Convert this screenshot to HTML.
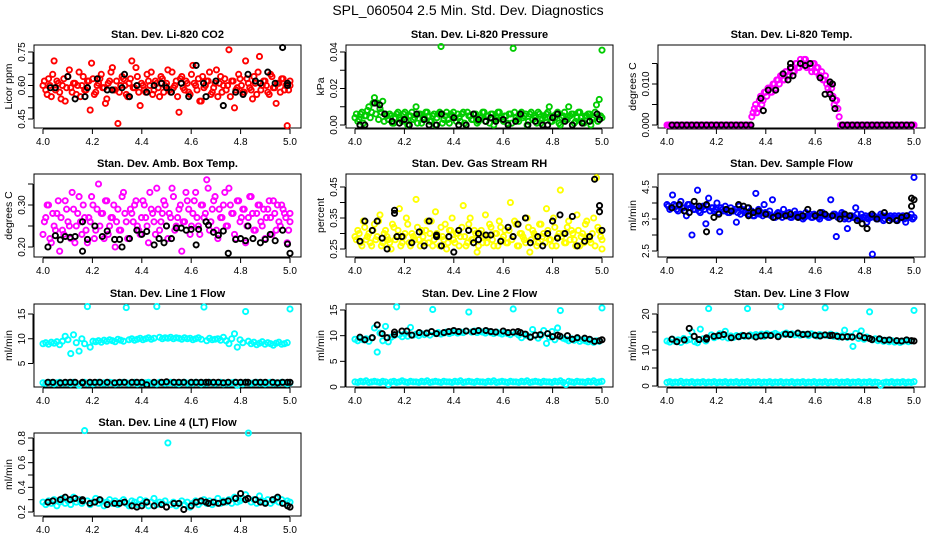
<!DOCTYPE html>
<html><head><meta charset="utf-8">
<style>
html,body{margin:0;padding:0;background:#fff;}
svg{display:block;font-family:"Liberation Sans",Arial,sans-serif;}
</style></head>
<body>
<svg id="chart" width="936" height="540" viewBox="0 0 936 540">
<text x="468" y="15" text-anchor="middle" font-size="14">SPL_060504  2.5 Min. Std. Dev. Diagnostics</text>
</svg>
<script>
// ---------- data ----------
const xTicks = [4.0, 4.2, 4.4, 4.6, 4.8, 5.0];
const xTickLabels = ["4.0", "4.2", "4.4", "4.6", "4.8", "5.0"];
const sharedBlackTimes = [4.02,4.04,4.07,4.09,4.11,4.13,4.16,4.16,4.19,4.21,4.23,4.26,4.29,4.31,4.33,4.36,4.38,4.40,4.42,4.45,4.48,4.50,4.53,4.55,4.57,4.60,4.62,4.64,4.66,4.67,4.69,4.71,4.73,4.75,4.78,4.80,4.82,4.83,4.86,4.88,4.90,4.93,4.95,4.97,4.99,5.00];

const co2Values = [0.60,0.58,0.63,0.55,0.71,0.62,0.57,0.60,0.53,0.64,0.59,0.61,0.56,0.66,0.60,0.58,0.62,0.49,0.63,0.57,0.61,0.65,0.59,0.54,0.62,0.68,0.58,0.43,0.60,0.63,0.56,0.61,0.71,0.59,0.64,0.51,0.60,0.57,0.62,0.66,0.58,0.61,0.55,0.63,0.60,0.67,0.57,0.59,0.62,0.48,0.64,0.58,0.61,0.56,0.69,0.60,0.63,0.53,0.59,0.62,0.66,0.57,0.61,0.55,0.64,0.60,0.58,0.76,0.62,0.50,0.59,0.63,0.57,0.71,0.61,0.58,0.64,0.56,0.73,0.60,0.62,0.57,0.65,0.59,0.52,0.61,0.63,0.58,0.42,0.60];
const co2Values2 = [0.62,0.56,0.60,0.65,0.58,0.61,0.54,0.63,0.59,0.67,0.57,0.61,0.60,0.55,0.64,0.58,0.62,0.70,0.56,0.60,0.63,0.59,0.52,0.61,0.66,0.58,0.62,0.57,0.64,0.60,0.55,0.63,0.59,0.68,0.57,0.61,0.58,0.65,0.60,0.56,0.62,0.59,0.64,0.57,0.61,0.58,0.66,0.60,0.55,0.63,0.59,0.62,0.57,0.65,0.61,0.58,0.53,0.64,0.60,0.62,0.56,0.59,0.67,0.61,0.57,0.63,0.60,0.55,0.62,0.58,0.65,0.60,0.57,0.63,0.59,0.54,0.61,0.66,0.58,0.62,0.60,0.56,0.64,0.59,0.61,0.57,0.63,0.60,0.58,0.62];
const co2BlackTimes = [4.03,4.05,4.10,4.13,4.17,4.18,4.22,4.26,4.28,4.32,4.33,4.35,4.38,4.42,4.45,4.48,4.50,4.52,4.56,4.59,4.62,4.65,4.66,4.70,4.73,4.78,4.81,4.83,4.86,4.88,4.91,4.94,4.97,4.99,4.99];
const co2BlackValues = [0.59,0.59,0.64,0.54,0.55,0.59,0.63,0.58,0.58,0.59,0.65,0.55,0.60,0.57,0.60,0.61,0.59,0.57,0.61,0.55,0.69,0.61,0.55,0.62,0.51,0.57,0.56,0.65,0.62,0.61,0.66,0.61,0.77,0.61,0.60];

const pressureValues = [0.004,0.002,0.006,0.001,0.005,0.010,0.007,0.015,0.012,0.009,0.013,0.006,0.003,0.005,0.001,0.006,0.004,0.002,0.007,0.000,0.005,0.003,0.010,0.006,0.001,0.004,0.007,0.002,0.005,0.000,0.006,0.043,0.003,0.007,0.001,0.005,0.004,0.006,0.002,0.007,0.000,0.005,0.003,0.006,0.001,0.004,0.007,0.002,0.005,0.006,0.000,0.004,0.007,0.003,0.005,0.001,0.006,0.042,0.004,0.002,0.007,0.005,0.000,0.006,0.003,0.004,0.007,0.001,0.005,0.006,0.010,0.002,0.004,0.007,0.000,0.005,0.003,0.010,0.006,0.001,0.004,0.007,0.002,0.005,0.006,0.000,0.004,0.011,0.014,0.041];
const pressureValues2 = [0.006,0.003,0.007,0.005,0.008,0.004,0.012,0.006,0.003,0.007,0.002,0.005,0.006,0.001,0.004,0.007,0.003,0.006,0.002,0.005,0.007,0.004,0.001,0.006,0.003,0.007,0.005,0.002,0.006,0.004,0.007,0.001,0.005,0.003,0.006,0.007,0.002,0.004,0.006,0.001,0.007,0.005,0.003,0.006,0.002,0.004,0.007,0.005,0.001,0.006,0.003,0.007,0.004,0.002,0.005,0.006,0.001,0.007,0.003,0.005,0.004,0.006,0.002,0.007,0.005,0.001,0.006,0.003,0.004,0.007,0.002,0.005,0.006,0.001,0.004,0.007,0.003,0.005,0.006,0.002,0.007,0.004,0.001,0.005,0.006,0.003,0.007,0.002,0.005,0.004];
const pressureBlackTimes = [4.02,4.04,4.08,4.10,4.12,4.15,4.18,4.20,4.22,4.25,4.28,4.30,4.33,4.35,4.40,4.42,4.45,4.48,4.50,4.53,4.55,4.57,4.60,4.62,4.65,4.67,4.70,4.73,4.76,4.78,4.80,4.82,4.85,4.88,4.92,4.95,4.98,4.99];
const pressureBlackValues = [0.000,0.000,0.012,0.011,0.006,0.002,0.001,0.003,0.000,0.006,0.003,0.000,0.000,0.006,0.004,0.000,0.000,0.006,0.003,0.002,0.004,0.002,0.003,0.000,0.002,0.006,0.000,0.002,0.000,0.000,0.004,0.006,0.002,0.000,0.001,0.002,0.006,0.003];

const tempValues = [0,0,0,0,0,0,0,0,0,0,0,0,0,0,0,0,0,0,0,0,0,0,0,0,0,0,0,0,0,0,0,0,0,0,0.002,0.004,0.003,0.006,0.005,0.008,0.007,0.009,0.008,0.010,0.011,0.010,0.012,0.011,0.013,0.012,0.014,0.013,0.015,0.014,0.015,0.016,0.014,0.015,0.013,0.015,0.014,0.012,0.013,0.011,0.010,0.008,0.009,0.005,0.006,0.002,0,0,0,0,0,0,0,0,0,0,0,0,0,0,0,0,0,0,0,0,0,0,0,0,0,0,0,0,0,0];
const tempValues2 = [0,0,0,0,0,0,0,0,0,0,0,0,0,0,0,0,0,0,0,0,0,0,0,0,0,0,0,0,0,0,0,0,0,0,0.003,0.005,0.004,0.007,0.006,0.008,0.009,0.008,0.010,0.009,0.011,0.012,0.011,0.013,0.012,0.014,0.013,0.015,0.014,0.016,0.015,0.016,0.015,0.014,0.015,0.013,0.014,0.012,0.011,0.012,0.009,0.010,0.007,0.006,0.004,0,0,0,0,0,0,0,0,0,0,0,0,0,0,0,0,0,0,0,0,0,0,0,0,0,0,0,0,0,0,0];
const tempBlackTimes = [4.02,4.04,4.06,4.08,4.10,4.12,4.14,4.16,4.18,4.20,4.22,4.24,4.26,4.28,4.30,4.32,4.34,4.38,4.39,4.41,4.44,4.47,4.49,4.50,4.50,4.51,4.54,4.56,4.58,4.62,4.64,4.66,4.66,4.67,4.67,4.68,4.71,4.73,4.75,4.77,4.79,4.81,4.83,4.85,4.87,4.89,4.91,4.93,4.95,4.97,4.99];
const tempBlackValues = [0,0,0,0,0,0,0,0,0,0,0,0,0,0,0,0,0,0.0065,0.0035,0.0085,0.0085,0.0125,0.0110,0.0150,0.0140,0.0120,0.0150,0.0145,0.0150,0.0115,0.0075,0.0105,0.0075,0.0100,0.0065,0.0040,0,0,0,0,0,0,0,0,0,0,0,0,0,0,0];

const ambValues = [0.23,0.27,0.30,0.21,0.25,0.28,0.19,0.24,0.31,0.26,0.22,0.29,0.25,0.32,0.23,0.27,0.21,0.26,0.30,0.24,0.35,0.28,0.22,0.31,0.25,0.27,0.20,0.29,0.24,0.33,0.26,0.22,0.28,0.30,0.25,0.23,0.31,0.27,0.21,0.29,0.26,0.34,0.24,0.28,0.30,0.22,0.27,0.32,0.25,0.29,0.19,0.26,0.31,0.23,0.28,0.33,0.25,0.30,0.27,0.36,0.24,0.29,0.32,0.22,0.27,0.30,0.25,0.34,0.28,0.23,0.31,0.26,0.29,0.21,0.27,0.32,0.24,0.28,0.30,0.25,0.22,0.29,0.27,0.31,0.24,0.26,0.30,0.28,0.21,0.26];
const ambValues2 = [0.26,0.30,0.22,0.28,0.24,0.31,0.27,0.23,0.29,0.25,0.33,0.21,0.28,0.26,0.30,0.24,0.27,0.32,0.22,0.29,0.25,0.28,0.31,0.23,0.27,0.30,0.26,0.24,0.32,0.28,0.22,0.29,0.26,0.31,0.24,0.27,0.30,0.25,0.33,0.28,0.23,0.29,0.26,0.31,0.25,0.28,0.34,0.24,0.27,0.30,0.26,0.33,0.29,0.25,0.31,0.27,0.23,0.30,0.28,0.34,0.26,0.31,0.24,0.29,0.27,0.33,0.25,0.30,0.28,0.22,0.31,0.27,0.29,0.25,0.32,0.28,0.24,0.30,0.26,0.29,0.27,0.31,0.23,0.28,0.30,0.25,0.29,0.27,0.24,0.28];
const ambBlackTimes = [4.02,4.05,4.07,4.09,4.11,4.13,4.16,4.16,4.18,4.21,4.24,4.26,4.29,4.31,4.32,4.35,4.38,4.40,4.42,4.45,4.47,4.49,4.50,4.52,4.54,4.56,4.58,4.60,4.62,4.63,4.66,4.67,4.69,4.71,4.73,4.75,4.78,4.80,4.82,4.83,4.85,4.88,4.90,4.92,4.94,4.97,4.99,5.00];
const ambBlackValues = [0.200,0.227,0.217,0.225,0.223,0.225,0.190,0.260,0.218,0.250,0.225,0.238,0.218,0.218,0.200,0.220,0.240,0.230,0.237,0.205,0.220,0.210,0.250,0.220,0.245,0.245,0.240,0.242,0.205,0.242,0.260,0.252,0.235,0.228,0.238,0.185,0.218,0.220,0.215,0.250,0.220,0.210,0.218,0.230,0.215,0.240,0.207,0.185];

const rhValues = [0.29,0.31,0.27,0.34,0.28,0.30,0.26,0.33,0.29,0.36,0.27,0.31,0.28,0.25,0.32,0.29,0.38,0.27,0.30,0.33,0.26,0.29,0.41,0.28,0.31,0.27,0.34,0.30,0.26,0.37,0.29,0.32,0.28,0.25,0.31,0.35,0.27,0.30,0.29,0.39,0.26,0.33,0.28,0.31,0.24,0.30,0.27,0.36,0.29,0.32,0.26,0.30,0.34,0.28,0.31,0.27,0.40,0.29,0.33,0.26,0.30,0.28,0.35,0.24,0.31,0.29,0.27,0.33,0.30,0.38,0.28,0.26,0.32,0.29,0.44,0.30,0.27,0.34,0.31,0.28,0.36,0.26,0.30,0.33,0.29,0.27,0.35,0.48,0.31,0.25];
const rhValues2 = [0.28,0.30,0.26,0.32,0.29,0.27,0.31,0.28,0.34,0.26,0.30,0.29,0.27,0.33,0.28,0.31,0.26,0.29,0.35,0.27,0.30,0.28,0.32,0.26,0.29,0.31,0.27,0.34,0.28,0.30,0.26,0.29,0.33,0.27,0.31,0.28,0.30,0.26,0.32,0.29,0.27,0.35,0.28,0.30,0.26,0.31,0.29,0.27,0.33,0.28,0.30,0.26,0.32,0.29,0.27,0.31,0.28,0.34,0.26,0.30,0.29,0.27,0.32,0.28,0.30,0.26,0.33,0.29,0.27,0.31,0.28,0.35,0.26,0.30,0.29,0.27,0.32,0.28,0.30,0.26,0.31,0.29,0.27,0.34,0.28,0.30,0.26,0.32,0.29,0.28];
const rhBlackTimes = [4.02,4.04,4.07,4.09,4.11,4.13,4.16,4.16,4.17,4.19,4.23,4.26,4.28,4.30,4.33,4.33,4.35,4.38,4.40,4.42,4.46,4.48,4.50,4.50,4.53,4.55,4.59,4.62,4.64,4.66,4.69,4.71,4.74,4.76,4.78,4.80,4.82,4.83,4.85,4.88,4.90,4.93,4.95,4.97,4.99,4.99,5.00];
const rhBlackValues = [0.275,0.340,0.310,0.340,0.285,0.250,0.365,0.375,0.290,0.290,0.270,0.305,0.260,0.340,0.295,0.290,0.260,0.290,0.240,0.310,0.310,0.270,0.300,0.280,0.295,0.295,0.275,0.320,0.290,0.330,0.350,0.270,0.290,0.260,0.300,0.340,0.285,0.360,0.300,0.355,0.260,0.275,0.290,0.475,0.390,0.370,0.310];

const flowValues = [3.95,3.80,4.25,3.90,3.75,4.05,3.85,3.60,3.95,3.00,3.80,4.40,3.70,3.90,3.35,4.15,3.85,3.75,4.00,3.10,3.80,3.90,3.70,3.85,3.75,3.40,3.90,3.80,3.70,3.85,3.75,3.60,4.30,3.80,3.70,3.95,3.65,3.75,4.10,3.55,3.70,3.65,3.80,3.60,3.70,3.55,3.75,3.60,3.65,3.50,3.70,3.60,3.55,3.65,3.60,3.50,3.70,3.60,3.55,4.10,3.65,2.95,3.60,3.70,3.50,3.20,3.60,3.55,3.85,3.50,3.65,3.55,3.40,3.60,2.40,3.55,3.50,3.65,3.45,3.60,3.55,3.50,3.60,3.45,3.55,3.60,3.40,3.55,3.65,4.80];
const flowValues2 = [3.90,3.85,3.95,3.80,3.90,3.85,3.75,3.95,3.85,3.80,3.90,3.75,3.85,3.80,3.90,3.75,3.85,3.80,3.70,3.85,3.75,3.80,3.70,3.75,3.80,3.70,3.65,3.75,3.70,3.65,3.75,3.60,3.70,3.65,3.60,3.70,3.65,3.60,3.55,3.65,3.60,3.55,3.65,3.60,3.55,3.60,3.65,3.55,3.60,3.55,3.60,3.65,3.55,3.60,3.55,3.60,3.65,3.60,3.55,3.60,3.65,3.55,3.60,3.65,3.55,3.50,3.60,3.55,3.65,3.50,3.55,3.60,3.50,3.55,3.60,3.50,3.55,3.60,3.50,3.55,3.60,3.55,3.50,3.60,3.55,3.50,3.60,3.55,3.50,3.55];
const flowBlackTimes = [4.02,4.05,4.07,4.09,4.11,4.13,4.16,4.16,4.19,4.21,4.24,4.26,4.29,4.31,4.33,4.33,4.35,4.37,4.40,4.43,4.45,4.48,4.50,4.53,4.55,4.57,4.60,4.62,4.64,4.67,4.70,4.72,4.74,4.77,4.79,4.81,4.83,4.85,4.88,4.90,4.93,4.95,4.97,4.99,4.99,5.00];
const flowBlackValues = [3.85,3.95,3.75,3.70,4.05,3.90,3.10,3.95,3.55,3.65,3.80,3.75,3.95,3.90,3.60,3.85,3.70,3.75,3.65,3.55,3.60,3.60,3.65,3.55,3.60,3.80,3.60,3.70,3.65,3.60,3.50,3.65,3.60,3.45,3.35,3.20,3.65,3.50,3.70,3.45,3.45,3.55,3.60,3.90,4.15,4.10];

const line1Upper = [9.0,9.2,8.9,9.3,9.1,9.4,8.8,9.5,10.5,9.8,7.0,10.8,9.2,7.5,10.0,9.0,16.5,8.3,9.5,9.4,9.6,9.3,9.7,9.5,9.8,9.6,9.4,9.9,9.7,9.5,16.3,9.8,10.0,9.7,9.9,10.1,9.8,10.0,10.2,9.9,10.1,16.5,10.3,10.0,10.2,10.1,10.3,10.0,10.2,10.1,9.9,10.2,10.0,10.1,9.8,10.0,10.2,9.9,16.4,9.6,10.1,9.8,9.9,10.0,9.7,10.3,9.6,9.0,10.0,11.0,8.3,9.8,9.2,15.5,9.5,9.0,9.3,8.8,9.1,9.4,8.9,9.2,9.0,8.7,9.1,9.3,8.9,9.0,9.2,16.0];
const line1Lower = [1.1,1.0,1.2,1.1,0.9,1.1,1.2,1.0,1.1,1.1,0.9,1.2,1.0,0.6,1.1,1.2,1.0,1.1,0.9,1.1,1.2,1.0,1.1,1.0,1.2,1.1,0.9,1.1,1.0,1.2,1.1,1.0,1.1,1.2,0.9,1.1,1.0,1.1,1.2,1.0,1.1,0.9,1.2,1.1,1.0,1.1,1.2,1.0,1.1,0.9,1.1,1.2,1.0,1.1,1.0,1.2,1.1,0.9,1.1,1.0,1.2,1.1,1.0,1.1,1.2,0.9,1.1,1.0,1.1,1.2,0.6,1.1,0.9,1.2,1.1,1.0,1.1,1.2,1.0,1.1,0.9,1.1,1.2,1.0,1.1,1.0,1.2,1.1,0.9,1.1];
const line1BlackValues = [1.2,1.2,1.1,1.2,1.2,1.2,1.1,1.2,1.2,1.2,1.2,1.2,1.1,1.2,1.2,1.2,1.2,1.2,0.7,1.2,1.2,1.3,1.2,1.2,1.2,1.2,1.2,1.2,1.2,1.2,1.2,1.2,1.1,1.2,1.2,1.2,1.2,1.2,1.2,1.2,1.2,1.2,1.1,1.2,1.2,1.2];

const line2Upper = [9.3,9.0,9.5,9.2,9.4,8.9,9.6,11.5,6.8,10.5,9.0,11.8,8.8,9.7,10.0,15.6,10.2,9.8,10.4,9.9,11.6,10.1,10.3,10.0,10.4,10.2,10.5,10.1,15.1,10.4,10.6,10.3,10.5,10.7,10.4,10.6,10.8,10.5,10.7,10.6,10.9,14.6,10.7,10.9,10.6,10.8,10.7,10.5,10.8,10.6,10.4,10.7,10.5,10.3,10.6,10.4,10.2,15.2,10.5,10.1,9.6,10.3,10.0,9.8,11.2,10.1,9.5,10.0,11.0,8.5,9.7,10.8,9.2,11.5,14.9,9.5,9.3,9.0,9.4,9.1,9.3,8.9,9.2,9.0,8.8,9.1,8.7,9.0,8.9,15.4];
const line2Lower = [1.0,0.9,1.1,1.0,1.2,0.9,1.0,1.1,1.0,0.9,1.1,1.0,0.5,1.0,1.1,0.9,1.0,1.2,1.0,0.9,1.1,1.0,1.0,0.9,1.1,1.0,1.2,0.9,1.0,1.1,1.0,0.9,1.1,1.0,1.0,0.9,1.1,1.0,1.2,0.9,1.0,1.1,1.0,0.9,1.1,1.0,1.0,0.9,1.1,1.0,1.2,0.9,1.0,1.1,1.0,0.9,1.1,1.0,1.0,0.9,1.1,1.0,1.2,0.9,1.0,1.1,1.0,0.9,1.1,1.0,1.0,0.9,1.1,1.0,1.2,0.9,0.5,1.1,1.0,0.9,1.1,1.0,1.0,0.9,1.1,1.0,1.2,0.9,1.0,1.1];
const line2BlackValues = [9.7,9.2,9.6,12.1,10.4,9.6,10.2,10.7,10.9,10.9,10.1,10.6,10.5,10.8,10.4,10.6,10.8,11.0,10.8,10.9,10.8,11.0,11.0,10.8,10.7,10.9,10.6,10.7,10.8,10.6,10.3,9.7,10.1,10.2,10.4,9.8,10.1,9.9,10.0,9.3,9.6,9.5,9.3,8.9,9.0,9.2];

const line3Upper = [12.5,12.2,13.0,12.4,12.8,12.1,13.2,12.6,12.9,15.0,12.3,12.0,15.8,13.1,12.5,21.5,14.2,13.4,13.8,14.5,13.6,15.2,13.3,13.9,13.5,14.0,13.7,14.1,13.8,21.5,14.2,13.9,14.3,14.0,14.4,13.8,14.5,14.1,14.3,14.6,14.2,22.0,14.4,14.7,14.3,14.5,14.2,14.6,14.1,14.4,14.3,14.0,14.5,14.2,13.9,14.3,14.1,21.7,14.0,14.4,13.8,14.1,13.6,13.9,15.5,13.5,13.8,11.0,14.6,13.2,15.3,13.0,13.6,20.6,12.8,13.1,12.6,12.9,12.4,12.7,12.3,12.6,12.2,12.5,12.1,12.4,12.6,12.3,12.5,21.0];
const line3Lower = [1.0,1.2,0.9,1.1,1.0,1.3,0.9,1.1,1.0,1.2,0.9,1.1,1.0,1.2,0.9,1.1,1.0,1.2,0.9,1.1,1.0,1.2,0.9,1.1,1.0,1.2,0.9,1.1,1.0,1.2,0.9,1.1,1.0,1.2,0.9,1.1,1.0,1.2,0.9,1.1,1.0,1.2,0.9,1.1,1.0,1.2,0.9,1.1,1.0,1.2,0.9,1.1,1.0,1.2,0.9,1.1,1.0,1.2,0.9,1.1,1.0,1.2,0.9,1.1,1.0,1.2,0.9,1.1,1.0,1.2,0.9,1.1,1.0,1.2,0.9,1.1,1.0,0.2,0.9,1.1,1.0,1.2,0.9,1.1,1.0,1.2,0.9,1.1,1.0,1.2];
const line3BlackValues = [13.0,12.3,12.8,16.0,13.8,12.9,13.4,13.0,13.8,14.0,14.3,13.4,13.7,14.0,13.9,13.6,13.9,14.1,14.0,13.7,14.4,14.3,14.7,14.3,14.4,14.1,13.9,14.2,14.0,14.1,13.8,13.6,13.7,13.6,13.9,13.4,13.2,12.9,13.1,12.7,12.8,12.6,12.5,12.8,12.6,12.5];

const line4Values = [0.28,0.26,0.29,0.27,0.30,0.25,0.28,0.31,0.27,0.29,0.26,0.32,0.28,0.30,0.27,0.86,0.29,0.26,0.28,0.31,0.27,0.29,0.25,0.28,0.30,0.27,0.29,0.26,0.28,0.30,0.27,0.25,0.29,0.28,0.26,0.30,0.27,0.29,0.25,0.28,0.31,0.26,0.28,0.27,0.29,0.76,0.26,0.28,0.25,0.27,0.29,0.26,0.28,0.24,0.27,0.29,0.26,0.28,0.30,0.27,0.29,0.26,0.28,0.31,0.27,0.29,0.28,0.30,0.27,0.32,0.28,0.29,0.31,0.34,0.84,0.28,0.30,0.27,0.33,0.29,0.28,0.30,0.27,0.29,0.31,0.28,0.30,0.27,0.29,0.28];
const line4BlackValues = [0.28,0.29,0.30,0.32,0.30,0.31,0.30,0.29,0.27,0.28,0.30,0.26,0.27,0.27,0.28,0.25,0.24,0.25,0.28,0.25,0.26,0.24,0.27,0.27,0.22,0.25,0.28,0.29,0.28,0.27,0.28,0.27,0.28,0.29,0.31,0.35,0.30,0.31,0.30,0.28,0.27,0.30,0.32,0.27,0.25,0.24];

// ---------- rendering ----------
const NS = "http://www.w3.org/2000/svg";
const svg = document.getElementById("chart");
function mk(tag, attrs, parent) {
  const e = document.createElementNS(NS, tag);
  for (const k in attrs) e.setAttribute(k, attrs[k]);
  (parent || svg).appendChild(e);
  return e;
}
const colLeft = [34, 346, 658];
const rowTop = [45, 174, 304, 433];
const BOXW = 267, BOXH = 83;

function panel(p) {
  const L = colLeft[p.col], T = rowTop[p.row], B = T + BOXH;
  const g = mk("g", {});
  
  
  const xs = v => L + 9 + (v - 4.0) / 1.0 * 247;
  const ys = v => p.py0 + (v - p.v0) / (p.v1 - p.v0) * (p.py1 - p.py0);
  const t = mk("text", {x: L + BOXW / 2, y: T - 7, "text-anchor": "middle", "font-size": 11, "font-weight": "bold"}, g);
  t.textContent = p.title;
  
  
  const box = mk("rect", {x: L, y: T, width: BOXW, height: BOXH, fill: "none", stroke: "#000", "stroke-width": 1}, g);
  
  
  const xa = mk("g", {}, g);
  
  
  mk("line", {x1: xs(xTicks[0]), x2: xs(xTicks[xTicks.length - 1]), y1: B + 1, y2: B + 1, stroke: "#000"}, xa);
  xTicks.forEach((v, i) => {
    mk("line", {x1: xs(v), x2: xs(v), y1: B + 1, y2: B + 6, stroke: "#000"}, xa);
    const lb = mk("text", {x: xs(v), y: B + 17, "text-anchor": "middle", "font-size": 10}, xa);
    lb.textContent = xTickLabels[i];
    
    
  });
  const ya = mk("g", {}, g);
  
  
  mk("line", {x1: L - 1, x2: L - 1, y1: ys(p.ticks[0]), y2: ys(p.ticks[p.ticks.length - 1]), stroke: "#000"}, ya);
  p.ticks.forEach(v => mk("line", {x1: L - 6, x2: L - 1, y1: ys(v), y2: ys(v), stroke: "#000"}, ya));
  p.labels.forEach((s, i) => {
    const yy = ys(p.labelVals[i]);
    const lb = mk("text", {x: L - 9, y: yy, "text-anchor": "middle", "font-size": 10, transform: `rotate(-90 ${L - 9} ${yy})`}, ya);
    lb.textContent = s;
    
    
  });
  const yl = mk("text", {x: L - 22, y: T + BOXH / 2, "text-anchor": "middle", "font-size": 10.5, transform: `rotate(-90 ${L - 22} ${T + BOXH / 2})`}, g);
  yl.textContent = p.ylab;
  
  
  p.series.forEach(s => {
    const sg = mk("g", {}, g);
    
    
    const n = s.times ? Math.min(s.times.length, s.values.length) : s.values.length;
    const off = s.half ? 0.5 : 0;
    for (let i = 0; i < n; i++) {
      const tv = s.times ? s.times[i] : 4.0 + Math.min(1, (i + off) / (n - 1));
      const c = mk("circle", {cx: xs(tv), cy: ys(s.values[i]), r: 2.6, fill: "none", stroke: s.color, "stroke-width": 1.9}, sg);
      
      
    }
  });
}

panel({name: "panel-co2", title: "Stan. Dev. Li-820 CO2", ylab: "Licor ppm", col: 0, row: 0, v0: 0.45, py0: 119, v1: 0.75, py1: 52,
  ticks: [0.45,0.50,0.55,0.60,0.65,0.70,0.75], labels: ["0.45","0.60","0.75"], labelVals: [0.45,0.60,0.75],
  series: [{name: "co2-series", color: "#ff0000", values: co2Values}, {name: "co2-series-2", color: "#ff0000", values: co2Values2, half: true}, {name: "co2-black-series", color: "#000", times: co2BlackTimes, values: co2BlackValues}]});
panel({name: "panel-pressure", title: "Stan. Dev. Li-820 Pressure", ylab: "kPa", col: 1, row: 0, v0: 0, py0: 125, v1: 0.04, py1: 52,
  ticks: [0,0.01,0.02,0.03,0.04], labels: ["0.00","0.02","0.04"], labelVals: [0,0.02,0.04],
  series: [{name: "pressure-series", color: "#00cc00", values: pressureValues}, {name: "pressure-series-2", color: "#00cc00", values: pressureValues2, half: true}, {name: "pressure-black-series", color: "#000", times: pressureBlackTimes, values: pressureBlackValues}]});
panel({name: "panel-temp", title: "Stan. Dev. Li-820 Temp.", ylab: "degrees C", col: 2, row: 0, v0: 0, py0: 125, v1: 0.010, py1: 84,
  ticks: [0,0.005,0.010,0.015], labels: ["0.000","0.010"], labelVals: [0,0.010],
  series: [{name: "temp-series", color: "#ff00ff", values: tempValues}, {name: "temp-series-2", color: "#ff00ff", values: tempValues2, half: true}, {name: "temp-black-series", color: "#000", times: tempBlackTimes, values: tempBlackValues}]});
panel({name: "panel-amb-box-temp", title: "Stan. Dev. Amb. Box Temp.", ylab: "degrees C", col: 0, row: 1, v0: 0.20, py0: 247, v1: 0.30, py1: 205,
  ticks: [0.20,0.25,0.30,0.35], labels: ["0.20","0.30"], labelVals: [0.20,0.30],
  series: [{name: "amb-series", color: "#ff00ff", values: ambValues}, {name: "amb-series-2", color: "#ff00ff", values: ambValues2, half: true}, {name: "amb-black-series", color: "#000", times: ambBlackTimes, values: ambBlackValues}]});
panel({name: "panel-gas-rh", title: "Stan. Dev. Gas Stream RH", ylab: "percent", col: 1, row: 1, v0: 0.25, py0: 249, v1: 0.45, py1: 187,
  ticks: [0.25,0.30,0.35,0.40,0.45], labels: ["0.25","0.35","0.45"], labelVals: [0.25,0.35,0.45],
  series: [{name: "rh-series", color: "#ffff00", values: rhValues}, {name: "rh-series-2", color: "#ffff00", values: rhValues2, half: true}, {name: "rh-black-series", color: "#000", times: rhBlackTimes, values: rhBlackValues}]});
panel({name: "panel-sample-flow", title: "Stan. Dev. Sample Flow", ylab: "ml/min", col: 2, row: 1, v0: 2.5, py0: 251, v1: 4.5, py1: 187,
  ticks: [2.5,3.0,3.5,4.0,4.5], labels: ["2.5","3.5","4.5"], labelVals: [2.5,3.5,4.5],
  series: [{name: "flow-series", color: "#0000ff", values: flowValues}, {name: "flow-series-2", color: "#0000ff", values: flowValues2, half: true}, {name: "flow-black-series", color: "#000", times: flowBlackTimes, values: flowBlackValues}]});
panel({name: "panel-line1", title: "Stan. Dev. Line 1 Flow", ylab: "ml/min", col: 0, row: 2, v0: 5, py0: 363.5, v1: 15, py1: 314,
  ticks: [5,10,15], labels: ["5","10","15"], labelVals: [5,10,15],
  series: [{name: "line1-upper-series", color: "#00ffff", values: line1Upper}, {name: "line1-lower-series", color: "#00ffff", values: line1Lower}, {name: "line1-black-series", color: "#000", times: sharedBlackTimes, values: line1BlackValues}]});
panel({name: "panel-line2", title: "Stan. Dev. Line 2 Flow", ylab: "ml/min", col: 1, row: 2, v0: 0, py0: 387, v1: 15, py1: 310,
  ticks: [0,5,10,15], labels: ["0","5","10","15"], labelVals: [0,5,10,15],
  series: [{name: "line2-upper-series", color: "#00ffff", values: line2Upper}, {name: "line2-lower-series", color: "#00ffff", values: line2Lower}, {name: "line2-black-series", color: "#000", times: sharedBlackTimes, values: line2BlackValues}]});
panel({name: "panel-line3", title: "Stan. Dev. Line 3 Flow", ylab: "ml/min", col: 2, row: 2, v0: 0, py0: 386, v1: 20, py1: 314,
  ticks: [0,5,10,15,20], labels: ["0","5","10","20"], labelVals: [0,5,10,20],
  series: [{name: "line3-upper-series", color: "#00ffff", values: line3Upper}, {name: "line3-lower-series", color: "#00ffff", values: line3Lower}, {name: "line3-black-series", color: "#000", times: sharedBlackTimes, values: line3BlackValues}]});
panel({name: "panel-line4", title: "Stan. Dev. Line 4 (LT) Flow", ylab: "ml/min", col: 0, row: 3, v0: 0.2, py0: 512, v1: 0.8, py1: 438,
  ticks: [0.2,0.3,0.4,0.5,0.6,0.7,0.8], labels: ["0.2","0.4","0.6","0.8"], labelVals: [0.2,0.4,0.6,0.8],
  series: [{name: "line4-series", color: "#00ffff", values: line4Values}, {name: "line4-black-series", color: "#000", times: sharedBlackTimes, values: line4BlackValues}]});
</script>
</body></html>
